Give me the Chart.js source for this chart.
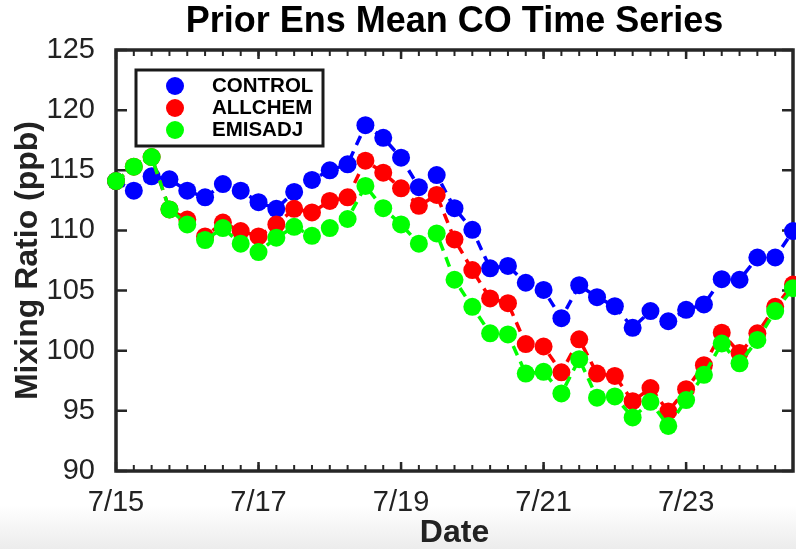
<!DOCTYPE html>
<html>
<head>
<meta charset="utf-8">
<title>Prior Ens Mean CO Time Series</title>
<script src="https://cdn.jsdelivr.net/npm/chart.js@4.4.1/dist/chart.umd.min.js"></script>
<style>
  html, body { margin: 0; padding: 0; overflow: hidden; }
  body { width: 796px; height: 549px; background: linear-gradient(#fff 0, #fff 505px, #ececec 549px); }
  #wrap { width: 802px; height: 549px; }
</style>
</head>
<body>
<div id="wrap"><canvas id="co-chart" width="802" height="549"></canvas></div>
<script>
// hours since 7/15 00:00, one sample every 6 h
const hours = [0, 6, 12, 18, 24, 30, 36, 42, 48, 54, 60, 66, 72, 78, 84, 90, 96, 102, 108, 114,
  120, 126, 132, 138, 144, 150, 156, 162, 168, 174, 180, 186, 192, 198, 204, 210, 216, 222, 228];

// prior ensemble mean CO (ppb)
const control = [114.1, 113.3, 114.5, 114.25, 113.3, 112.75, 113.85, 113.3, 112.35, 111.8,
  113.2, 114.2, 115.0, 115.5, 118.75, 117.7, 116.05, 113.6, 114.6, 111.85,
  110.05, 106.85, 107.05, 105.65, 105.05, 102.7, 105.45, 104.45, 103.7, 101.9,
  103.3, 102.45, 103.4, 103.85, 105.95, 105.9, 107.75, 107.75, 109.95];
const allchem = [114.1, 115.3, 116.1, 111.75, 110.9, 109.5, 110.65, 109.95, 109.5, 110.5,
  111.8, 111.5, 112.45, 112.75, 115.8, 114.8, 113.5, 112.05, 112.95, 109.25,
  106.7, 104.35, 103.95, 100.55, 100.35, 98.2, 100.95, 98.1, 97.9, 95.8,
  96.9, 94.95, 96.8, 98.8, 101.5, 99.8, 101.45, 103.65, 105.5];
const emisadj = [114.1, 115.3, 116.1, 111.75, 110.5, 109.2, 110.2, 108.9, 108.2, 109.4,
  110.3, 109.55, 110.2, 110.95, 113.7, 111.85, 110.5, 108.9, 109.75, 105.9,
  103.65, 101.45, 101.35, 98.1, 98.25, 96.45, 99.3, 96.1, 96.2, 94.45,
  95.75, 93.75, 95.9, 98.0, 100.6, 98.95, 100.9, 103.3, 105.2];

// labelled date ticks
const tickHours = [0, 48, 96, 144, 192];
const dateLabels = ['7/15', '7/17', '7/19', '7/21', '7/23'];
const yTicks = [90, 95, 100, 105, 110, 115, 120, 125];

const TEXT = '#222';
const FRAME = '#262626';
Chart.defaults.font.family = "'Liberation Sans', Arial, Helvetica, sans-serif";
Chart.defaults.color = TEXT;

function series(label, values, color, order) {
  return {
    label: label,
    order: order,
    data: hours.map((h, i) => ({ x: h, y: values[i] })),
    borderColor: color,
    backgroundColor: color,
    borderWidth: 3.5,
    borderDash: [10, 7],
    pointRadius: 9,
    pointHoverRadius: 9,
    pointBorderWidth: 0,
    pointBackgroundColor: color,
    tension: 0,
    clip: false
  };
}

// boxed axes with inward ticks, drawn under the data
const axesFrame = {
  id: 'axesFrame',
  beforeDatasetsDraw(chart) {
    const { ctx, chartArea: a, scales: { x, y } } = chart;
    ctx.save();
    ctx.strokeStyle = FRAME;
    ctx.lineWidth = 2;
    ctx.beginPath();
    for (const h of hours) {
      const px = x.getPixelForValue(h);
      ctx.moveTo(px, a.bottom); ctx.lineTo(px, a.bottom - 6);
      ctx.moveTo(px, a.top); ctx.lineTo(px, a.top + 6);
    }
    ctx.stroke();
    ctx.lineWidth = 2.5;
    ctx.beginPath();
    for (const h of tickHours) {
      const px = x.getPixelForValue(h);
      ctx.moveTo(px, a.bottom); ctx.lineTo(px, a.bottom - 9);
      ctx.moveTo(px, a.top); ctx.lineTo(px, a.top + 9);
    }
    for (const v of yTicks) {
      const py = y.getPixelForValue(v);
      ctx.moveTo(a.left, py); ctx.lineTo(a.left + 11, py);
      ctx.moveTo(a.right, py); ctx.lineTo(a.right - 11, py);
    }
    ctx.stroke();
    ctx.lineWidth = 3.5;
    ctx.strokeRect(a.left, a.top, a.right - a.left, a.bottom - a.top);
    ctx.restore();
  }
};

// legend box in the upper left corner of the plot
const boxLegend = {
  id: 'boxLegend',
  afterDatasetsDraw(chart) {
    const { ctx, chartArea: a } = chart;
    const bx = a.left + 20, by = a.top + 20, bw = 187, bh = 76;
    ctx.save();
    ctx.fillStyle = '#fff';
    ctx.fillRect(bx, by, bw, bh);
    ctx.lineWidth = 3;
    ctx.strokeStyle = '#1a1a1a';
    ctx.strokeRect(bx, by, bw, bh);
    ctx.font = "bold 20.5px 'Liberation Sans', Arial, sans-serif";
    ctx.textBaseline = 'middle';
    chart.data.datasets.forEach((ds, i) => {
      const cy = by + 16 + i * 22;
      ctx.fillStyle = ds.backgroundColor;
      ctx.beginPath();
      ctx.arc(bx + 39, cy, 9, 0, Math.PI * 2);
      ctx.fill();
      ctx.fillStyle = '#000';
      ctx.fillText(ds.label, bx + 76, cy);
    });
    ctx.restore();
  }
};

new Chart(document.getElementById('co-chart'), {
  type: 'line',
  data: {
    datasets: [
      series('CONTROL', control, '#0000ff', 3),
      series('ALLCHEM', allchem, '#ff0000', 2),
      series('EMISADJ', emisadj, '#00ff00', 1)
    ]
  },
  options: {
    responsive: false,
    animation: false,
    devicePixelRatio: 1,
    events: [],
    layout: { padding: { left: 0, right: 3, top: 0, bottom: 0 } },
    scales: {
      x: {
        type: 'linear',
        min: 0,
        max: 228,
        grid: { display: false },
        border: { display: false },
        afterBuildTicks: (s) => { s.ticks = tickHours.map((v) => ({ value: v })); },
        afterFit: (s) => { s.height = 78; },
        ticks: {
          autoSkip: false,
          maxRotation: 0,
          padding: 7,
          font: { size: 29 },
          callback: (v, i) => dateLabels[i]
        },
        title: {
          display: true,
          text: 'Date',
          font: { size: 32, weight: 'bold', lineHeight: 1.0 },
          padding: 0
        }
      },
      y: {
        type: 'linear',
        min: 90,
        max: 125,
        grid: { display: false },
        border: { display: false },
        afterBuildTicks: (s) => { s.ticks = yTicks.map((v) => ({ value: v })); },
        afterFit: (s) => { s.width = 116; },
        ticks: { padding: 13, font: { size: 29 }, callback: (v) => String(v) },
        title: {
          display: true,
          text: 'Mixing Ratio (ppb)',
          font: { size: 32, weight: 'bold', lineHeight: 1.2 },
          padding: { top: 8.5, bottom: 0 }
        }
      }
    },
    plugins: {
      legend: { display: false },
      tooltip: { enabled: false },
      title: {
        display: true,
        fullSize: false,
        text: 'Prior Ens Mean CO Time Series',
        color: '#000',
        font: { size: 36, weight: 'bold', lineHeight: 1.2 },
        padding: { top: 0.2, bottom: 6.6 }
      }
    }
  },
  plugins: [axesFrame, boxLegend]
});
</script>
</body>
</html>
